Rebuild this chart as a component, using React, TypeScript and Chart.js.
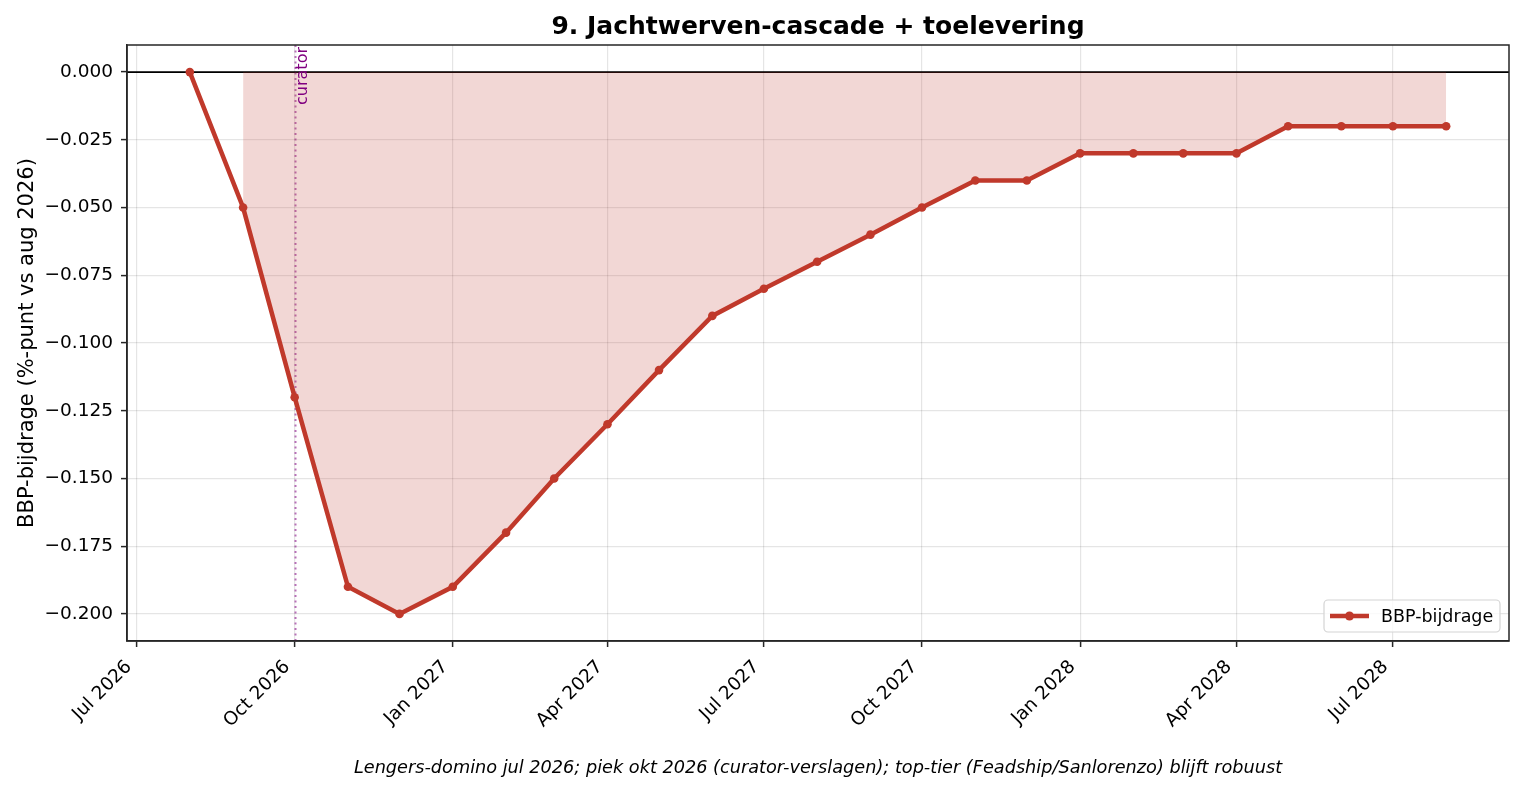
import React, { useEffect, useRef } from 'react';
import { Chart, registerables } from 'chart.js';

Chart.register(...registerables);

// ---------- data ----------
const MONTHS = [
  '2026-08', '2026-09', '2026-10', '2026-11', '2026-12',
  '2027-01', '2027-02', '2027-03', '2027-04', '2027-05', '2027-06',
  '2027-07', '2027-08', '2027-09', '2027-10', '2027-11', '2027-12',
  '2028-01', '2028-02', '2028-03', '2028-04', '2028-05', '2028-06',
  '2028-07', '2028-08',
];
const VALUES = [
  0, -0.05, -0.12, -0.19, -0.2,
  -0.19, -0.17, -0.15, -0.13, -0.11, -0.09,
  -0.08, -0.07, -0.06, -0.05, -0.04, -0.04,
  -0.03, -0.03, -0.03, -0.03, -0.02, -0.02,
  -0.02, -0.02,
];
const FILL_FROM = '2026-09';
const X_TICK_MONTHS = [
  '2026-07', '2026-10', '2027-01', '2027-04', '2027-07',
  '2027-10', '2028-01', '2028-04', '2028-07',
];
const Y_TICKS = [0, -0.025, -0.05, -0.075, -0.1, -0.125, -0.15, -0.175, -0.2];
const MARKER_MONTH = '2026-10';
const MARKER_LABEL = 'curator';
const MONTH_NAMES = ['Jan', 'Feb', 'Mar', 'Apr', 'May', 'Jun', 'Jul', 'Aug', 'Sep', 'Oct', 'Nov', 'Dec'];

const TITLE = '9. Jachtwerven-cascade + toelevering';
const Y_LABEL = 'BBP-bijdrage (%-punt vs aug 2026)';
const SERIES_LABEL = 'BBP-bijdrage';
const CAPTION =
  'Lengers-domino jul 2026; piek okt 2026 (curator-verslagen); top-tier (Feadship/Sanlorenzo) blijft robuust';

// ---------- helpers ----------
const ts = (m: string) => {
  const [y, mo] = m.split('-').map(Number);
  return Date.UTC(y, mo - 1, 1);
};
const fmtMonth = (v: number) => {
  const d = new Date(v);
  return `${MONTH_NAMES[d.getUTCMonth()]} ${d.getUTCFullYear()}`;
};

const W = 1523;
const H = 791;
const AREA = { left: 127, right: 1509, top: 45, bottom: 641 };
const FONT = '"DejaVu Sans", sans-serif';
const RED = '#c0392b';
const INK = '#262626';

export default function App() {
  const ref = useRef<HTMLCanvasElement | null>(null);

  useEffect(() => {
    document.body.style.margin = '0';
    const canvas = ref.current;
    if (!canvas) return;

    const xs = MONTHS.map(ts);
    const span = xs[xs.length - 1] - xs[0];
    const xMin = xs[0] - 0.05 * span;
    const xMax = xs[xs.length - 1] + 0.05 * span;
    const vMin = Math.min(...VALUES);
    const vMax = Math.max(...VALUES);
    const vr = vMax - vMin;
    const yMin = vMin - 0.05 * vr;
    const yMax = vMax + 0.05 * vr;

    const linePts = MONTHS.map((m, i) => ({ x: ts(m), y: VALUES[i] }));
    const fillPts = linePts.filter((p) => p.x >= ts(FILL_FROM));

    const decor = {
      id: 'decor',
      beforeDatasetsDraw(chart: any) {
        const { ctx, chartArea } = chart;
        const xS = chart.scales.x;
        const yS = chart.scales.y;
        ctx.save();
        // zero line
        const y0 = yS.getPixelForValue(0);
        ctx.strokeStyle = '#000';
        ctx.lineWidth = 1.8;
        ctx.beginPath();
        ctx.moveTo(chartArea.left, y0);
        ctx.lineTo(chartArea.right, y0);
        ctx.stroke();
        // vertical marker line
        const xv = Math.round(xS.getPixelForValue(ts(MARKER_MONTH))) + 0.5;
        ctx.strokeStyle = 'rgba(128,0,128,0.55)';
        ctx.lineWidth = 2;
        ctx.setLineDash([2, 3.5]);
        ctx.beginPath();
        ctx.moveTo(xv, chartArea.top);
        ctx.lineTo(xv, chartArea.bottom);
        ctx.stroke();
        ctx.restore();
      },
      afterDraw(chart: any) {
        const { ctx, chartArea } = chart;
        const xS = chart.scales.x;
        ctx.save();
        // full frame
        ctx.strokeStyle = INK;
        ctx.lineWidth = 1.5;
        ctx.strokeRect(chartArea.left, chartArea.top, chartArea.right - chartArea.left, chartArea.bottom - chartArea.top);

        // title
        ctx.fillStyle = '#000';
        ctx.font = `bold 25px ${FONT}`;
        ctx.textAlign = 'center';
        ctx.textBaseline = 'alphabetic';
        ctx.fillText(TITLE, (chartArea.left + chartArea.right) / 2, 34);

        // y label
        ctx.save();
        ctx.translate(33, (chartArea.top + chartArea.bottom) / 2);
        ctx.rotate(-Math.PI / 2);
        ctx.font = `21px ${FONT}`;
        ctx.textAlign = 'center';
        ctx.textBaseline = 'alphabetic';
        ctx.fillText(Y_LABEL, 0, 0);
        ctx.restore();

        // x tick labels, rotated 45 degrees
        ctx.font = `18.5px ${FONT}`;
        X_TICK_MONTHS.forEach((m) => {
          const px = xS.getPixelForValue(ts(m));
          ctx.save();
          ctx.translate(px - 7.5, chartArea.bottom + 23);
          ctx.rotate(-Math.PI / 4);
          ctx.textAlign = 'right';
          ctx.textBaseline = 'middle';
          ctx.fillText(fmtMonth(ts(m)), 0, 0);
          ctx.restore();
        });

        // marker label
        const xv = xS.getPixelForValue(ts(MARKER_MONTH));
        ctx.save();
        ctx.translate(xv + 12, chartArea.top + 2);
        ctx.rotate(-Math.PI / 2);
        ctx.fillStyle = '#800080';
        ctx.font = `16px ${FONT}`;
        ctx.textAlign = 'right';
        ctx.textBaseline = 'alphabetic';
        ctx.fillText(MARKER_LABEL, 0, 0);
        ctx.restore();

        // caption
        ctx.fillStyle = '#000';
        ctx.font = `italic 17.7px ${FONT}`;
        ctx.textAlign = 'center';
        ctx.textBaseline = 'alphabetic';
        ctx.fillText(CAPTION, (chartArea.left + chartArea.right) / 2, 773);

        // legend
        const lx = 1324, ly = 600, lw = 176, lh = 32;
        ctx.fillStyle = 'rgba(255,255,255,0.8)';
        ctx.strokeStyle = '#d4d4d4';
        ctx.lineWidth = 1.2;
        ctx.beginPath();
        (ctx as any).roundRect(lx, ly, lw, lh, 4);
        ctx.fill();
        ctx.stroke();
        const cy = ly + lh / 2;
        ctx.strokeStyle = RED;
        ctx.lineWidth = 4.5;
        ctx.beginPath();
        ctx.moveTo(lx + 6, cy);
        ctx.lineTo(lx + 45, cy);
        ctx.stroke();
        ctx.fillStyle = RED;
        ctx.beginPath();
        ctx.arc(lx + 25.5, cy, 4.5, 0, Math.PI * 2);
        ctx.fill();
        ctx.fillStyle = '#000';
        ctx.font = `17.5px ${FONT}`;
        ctx.textAlign = 'left';
        ctx.textBaseline = 'middle';
        ctx.fillText(SERIES_LABEL, lx + 57, cy + 1);
        ctx.restore();
      },
    };

    const chart = new Chart(canvas, {
      type: 'line',
      data: {
        datasets: [
          {
            label: SERIES_LABEL,
            data: linePts,
            borderColor: RED,
            backgroundColor: RED,
            borderWidth: 4.5,
            pointRadius: 4.3,
            pointBackgroundColor: RED,
            pointBorderWidth: 0,
            tension: 0,
            fill: false,
          },
          {
            label: 'fill',
            data: fillPts,
            borderWidth: 0,
            borderColor: 'rgba(0,0,0,0)',
            backgroundColor: 'rgba(192,57,43,0.2)',
            pointRadius: 0,
            tension: 0,
            fill: 'origin',
          },
        ],
      },
      options: {
        animation: false,
        responsive: false,
        devicePixelRatio: 1,
        layout: { padding: { top: AREA.top, right: W - AREA.right, left: 0, bottom: 0 } },
        plugins: {
          legend: { display: false },
          title: { display: false },
          tooltip: { enabled: false },
        },
        scales: {
          x: {
            type: 'linear',
            min: xMin,
            max: xMax,
            afterBuildTicks: (s: any) => {
              s.ticks = X_TICK_MONTHS.map((m) => ({ value: ts(m) }));
            },
            afterFit: (s: any) => {
              s.height = H - AREA.bottom;
            },
            ticks: { display: false },
            grid: {
              color: 'rgba(0,0,0,0.1)',
              lineWidth: 1.2,
              drawTicks: true,
              tickLength: 6,
              tickColor: INK,
              tickWidth: 1.5,
            },
            border: { display: true, color: INK, width: 1.5 },
          },
          y: {
            type: 'linear',
            min: yMin,
            max: yMax,
            afterBuildTicks: (s: any) => {
              s.ticks = Y_TICKS.map((v) => ({ value: v }));
            },
            afterFit: (s: any) => {
              s.width = AREA.left;
            },
            ticks: {
              color: '#000',
              font: { family: FONT, size: 18.5 },
              padding: 8,
              callback: (v: any) => {
                const n = Number(v);
                const s = Math.abs(n).toFixed(3);
                return n < -1e-9 ? `\u2212${s}` : s;
              },
            },
            grid: {
              color: 'rgba(0,0,0,0.1)',
              lineWidth: 1.2,
              drawTicks: true,
              tickLength: 6,
              tickColor: INK,
              tickWidth: 1.5,
            },
            border: { display: true, color: INK, width: 1.5 },
          },
        },
      },
      plugins: [decor],
    } as any);

    return () => chart.destroy();
  }, []);

  return (
    <div style={{ width: W, height: H, background: '#fff' }}>
      <canvas ref={ref} width={W} height={H} style={{ display: 'block', width: W, height: H }} />
    </div>
  );
}
